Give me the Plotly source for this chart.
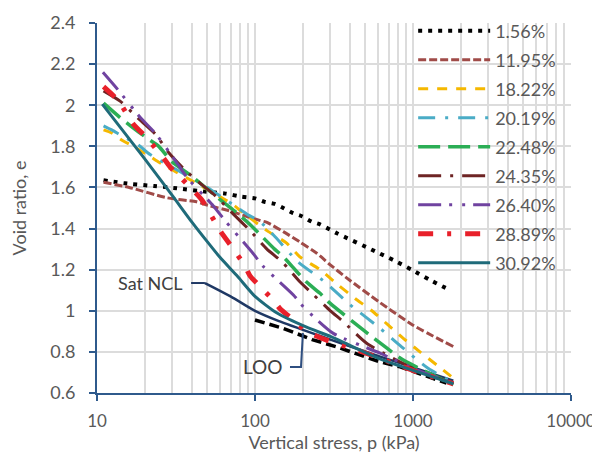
import plotly.graph_objects as go
import numpy as np

# ---- data ----
names = ["1.56%", "11.95%", "18.22%", "20.19%", "22.48%", "24.35%", "26.40%", "28.89%", "30.92%"]

p_156 = [11, 15, 23, 32, 48, 65, 82, 100, 115, 133, 151, 174, 198, 228, 258, 298, 330, 574, 750, 980, 1280, 1670]
e_156 = [1.635, 1.62, 1.607, 1.596, 1.58, 1.57, 1.555, 1.547, 1.53, 1.52, 1.50, 1.475, 1.46, 1.434, 1.42, 1.395, 1.377, 1.29, 1.247, 1.20, 1.15, 1.105]

p_1195 = [11, 16, 27.6, 42.7, 52, 66, 80, 107, 119, 151, 192, 246, 298, 380, 618, 1000, 1800]
e_1195 = [1.625, 1.60, 1.55, 1.53, 1.51, 1.49, 1.47, 1.44, 1.43, 1.385, 1.335, 1.28, 1.225, 1.16, 1.04, 0.93, 0.826]

p_1822 = [11, 12.4, 14.4, 17, 21.7, 25, 45, 73, 80, 119, 158, 192, 258, 335, 430, 549, 698, 868, 1107, 1410, 1800]
e_1822 = [1.88, 1.865, 1.83, 1.80, 1.75, 1.72, 1.61, 1.515, 1.49, 1.39, 1.33, 1.263, 1.20, 1.126, 1.06, 1.0, 0.93, 0.866, 0.80, 0.737, 0.672]

p_2019 = [11, 12.4, 14.4, 18, 21.7, 33, 50, 89, 107, 134, 186, 277, 399, 618, 843, 1246, 1800]
e_2019 = [1.90, 1.88, 1.85, 1.81, 1.76, 1.68, 1.60, 1.47, 1.435, 1.36, 1.24, 1.14, 1.03, 0.915, 0.826, 0.72, 0.65]

p_2248 = [11, 14, 16.3, 20.7, 24.6, 29.8, 39, 54, 65, 77, 93, 108, 133, 151, 184, 212, 258, 298, 484, 684, 868, 1800]
e_2248 = [2.01, 1.94, 1.90, 1.84, 1.80, 1.725, 1.66, 1.57, 1.52, 1.475, 1.42, 1.37, 1.30, 1.263, 1.19, 1.14, 1.085, 1.037, 0.907, 0.818, 0.76, 0.64]

p_2435 = [11, 14, 18, 23.4, 28.4, 36, 45, 56, 73, 93, 119, 150, 193, 233, 300, 362, 509, 1000, 1800]
e_2435 = [2.07, 2.02, 1.94, 1.86, 1.77, 1.685, 1.62, 1.56, 1.47, 1.39, 1.30, 1.235, 1.14, 1.08, 1.0, 0.947, 0.842, 0.72, 0.645]

p_2640 = [10.9, 13.4, 18.8, 23.3, 32, 37, 54.5, 66, 97, 113, 175, 202, 313, 618, 1000, 1800]
e_2640 = [2.16, 2.08, 1.94, 1.865, 1.72, 1.65, 1.51, 1.43, 1.28, 1.215, 1.077, 1.02, 0.89, 0.794, 0.72, 0.645]

p_2889 = [11, 13.7, 16.9, 20.7, 26.5, 29, 46, 60, 73, 86, 93, 107, 131, 144, 175, 212, 300, 440, 1000, 1800]
e_2889 = [2.09, 2.02, 1.91, 1.84, 1.74, 1.70, 1.54, 1.39, 1.30, 1.22, 1.17, 1.12, 1.05, 1.01, 0.955, 0.90, 0.85, 0.81, 0.71, 0.645]

p_3092 = [10.8, 20, 30, 40, 50, 60, 77, 100, 137, 212, 300, 600, 1000, 1800]
e_3092 = [2.005, 1.74, 1.56, 1.43, 1.335, 1.26, 1.17, 1.07, 0.99, 0.92, 0.875, 0.77, 0.71, 0.645]

# Saturated NCL and LOO reference lines
p_ncl = [48.2, 70, 100, 145, 300, 620, 1800]
e_ncl = [1.135, 1.07, 1.0, 0.947, 0.86, 0.777, 0.66]

p_loo = [100, 150, 230, 330, 460, 620, 830, 1110, 1480, 1630]
e_loo = [0.955, 0.915, 0.86, 0.824, 0.785, 0.751, 0.727, 0.693, 0.659, 0.648]

# annotation labels and leader lines
ncl_label = "Sat NCL"
ncl_label_pos = (36.1, 1.135)
ncl_leader_p = [39.4, 48.2]
ncl_leader_e = [1.135, 1.135]

loo_label = "LOO"
loo_label_pos = (155, 0.727)
loo_leader_p = [166.5, 195.5, 201]
loo_leader_e = [0.727, 0.727, 0.892]

x_ticks = [10, 100, 1000, 10000]
y_ticks = [0.6, 0.8, 1.0, 1.2, 1.4, 1.6, 1.8, 2.0, 2.2, 2.4]
y_tick_text = ["0.6", "0.8", "1", "1.2", "1.4", "1.6", "1.8", "2", "2.2", "2.4"]

# ---- styling ----
FONT = "Lato"
TXT = "#595959"
AXC = "#2F5A8C"
GRID = "#DCDCDC"

series = [
    (p_156, e_156, "#000000", 4, "4px,6px"),
    (p_1195, e_1195, "#A04B48", 3, "8px,3px"),
    (p_1822, e_1822, "#F5B800", 3, "10px,9px"),
    (p_2019, e_2019, "#4AACC6", 3, "17px,10px,3px,10px"),
    (p_2248, e_2248, "#2BAE55", 3.5, "22px,8px"),
    (p_2435, e_2435, "#6E2424", 3, "23px,9px,3px,9px"),
    (p_2640, e_2640, "#7043A0", 3, "23px,8px,3px,10px,3px,8px"),
    (p_2889, e_2889, "#E8202A", 5, "15px,14px,4px,14px"),
    (p_3092, e_3092, "#1F6B7A", 3, "solid"),
]

fig = go.Figure()

# reference lines (no legend)
fig.add_trace(go.Scatter(x=p_loo, y=e_loo, mode="lines", showlegend=False, hoverinfo="skip",
                         line=dict(color="#000000", width=3.5, dash="10px,5px")))
fig.add_trace(go.Scatter(x=p_ncl, y=e_ncl, mode="lines", showlegend=False, hoverinfo="skip",
                         line=dict(color="#1F3864", width=2.5, shape="spline")))
fig.add_trace(go.Scatter(x=ncl_leader_p, y=ncl_leader_e, mode="lines", showlegend=False, hoverinfo="skip",
                         line=dict(color="#1F3864", width=2)))
fig.add_trace(go.Scatter(x=loo_leader_p, y=loo_leader_e, mode="lines", showlegend=False, hoverinfo="skip",
                         line=dict(color="#2F4F80", width=2)))

for i, (name, (px, ey, col, w, dash)) in enumerate(zip(names, series)):
    fig.add_trace(go.Scatter(x=px, y=ey, mode="lines", name=name, legendgroup=name,
                             line=dict(color=col, width=w, dash=dash, shape="spline", smoothing=0.6)))

fig.add_annotation(x=np.log10(ncl_label_pos[0]), y=ncl_label_pos[1], text=ncl_label, showarrow=False,
                   xanchor="right", yanchor="middle", font=dict(family=FONT, size=18, color="#404040"))
fig.add_annotation(x=np.log10(loo_label_pos[0]), y=loo_label_pos[1], text=loo_label, showarrow=False,
                   xanchor="right", yanchor="middle", font=dict(family=FONT, size=19, color="#404040"))

minor_vals = [d * 10 ** k for k in range(1, 4) for d in range(2, 10)]

# the page body adds an 8px offset, margins compensate for it
fig.update_layout(
    width=600, height=455,
    margin=dict(l=89, r=37, t=15, b=70, autoexpand=False),
    paper_bgcolor="white", plot_bgcolor="white",
    font=dict(family=FONT, size=17, color=TXT),
    legend=dict(x=0.667, y=1.028, xanchor="left", yanchor="top", bgcolor="rgba(0,0,0,0)",
                font=dict(family=FONT, size=18, color=TXT), itemwidth=72, maxheight=400,
                tracegroupgap=2.6, itemclick=False),
    xaxis=dict(type="log", range=[1, 4], tickvals=x_ticks, ticktext=[str(v) for v in x_ticks],
               showgrid=True, gridcolor=GRID, gridwidth=2,
               minor=dict(tickvals=minor_vals, showgrid=True, gridcolor=GRID, gridwidth=1.5, ticks=""),
               showline=True, linecolor=AXC, linewidth=2, ticks="outside", ticklen=6, tickwidth=2,
               tickcolor=AXC, ticklabelstandoff=6, zeroline=False, tickfont=dict(size=17),
               title=dict(text="Vertical stress, p (kPa)", standoff=6, font=dict(family=FONT, size=18, color=TXT))),
    yaxis=dict(range=[0.6, 2.4], tickvals=y_ticks, ticktext=y_tick_text,
               showgrid=True, gridcolor=GRID, gridwidth=2,
               showline=True, linecolor=AXC, linewidth=2, ticks="outside", ticklen=6, tickwidth=2,
               tickcolor=AXC, ticklabelstandoff=10, zeroline=False, tickfont=dict(size=18),
               title=dict(text="Void ratio, e", standoff=27, font=dict(family=FONT, size=18, color=TXT))),
)

fig.write_html("out.html")
